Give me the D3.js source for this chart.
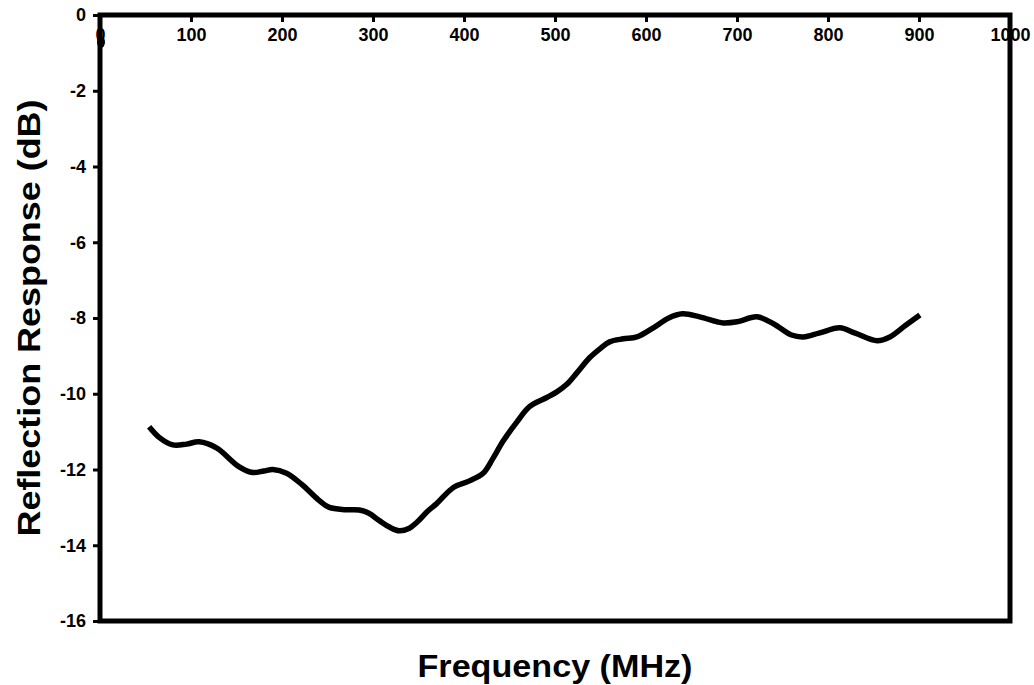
<!DOCTYPE html>
<html>
<head>
<meta charset="utf-8">
<script src="https://cdn.jsdelivr.net/npm/d3@7"></script>
<style>
body{margin:0;background:#fff;}
svg text{font-family:"Liberation Sans",Arial,sans-serif;font-weight:bold;fill:#000;}
</style>
</head>
<body>
<svg id="chart" width="1034" height="685"></svg>
<script>
// frequency (MHz) and reflection response (dB)
var freq = [54, 65, 80, 95, 109, 128, 153, 168, 180, 190, 205, 222, 240, 252, 270, 285, 295, 307, 318, 329, 340, 348, 360, 370, 388, 406, 421, 432, 443, 458, 472, 491, 502, 513, 524, 538, 550, 560, 575, 590, 608, 625, 640, 659, 678, 685, 700, 722, 740, 760, 773, 790, 813, 830, 854, 868, 885, 901];
var resp = [-10.87, -11.15, -11.35, -11.33, -11.27, -11.43, -11.93, -12.08, -12.04, -12.0, -12.1, -12.4, -12.8, -13.0, -13.06, -13.07, -13.15, -13.35, -13.52, -13.62, -13.55, -13.4, -13.1, -12.9, -12.48, -12.3, -12.1, -11.7, -11.25, -10.75, -10.34, -10.1, -9.95, -9.75, -9.45, -9.05, -8.8, -8.63, -8.55, -8.5, -8.26, -8.0, -7.89, -7.97, -8.1, -8.13, -8.1, -7.97, -8.15, -8.45, -8.5, -8.4, -8.26, -8.4, -8.6, -8.5, -8.2, -7.92];
var xTicks = [0, 100, 200, 300, 400, 500, 600, 700, 800, 900, 1000];
var yTicks = [0, -2, -4, -6, -8, -10, -12, -14, -16];

var svg = d3.select("#chart");
var mLeft = 100, mRight = 1010, mTop = 15, mBottom = 621;

var x = d3.scaleLinear().domain([0, 1000]).range([mLeft, mRight]);
var y = d3.scaleLinear().domain([-16, 0]).range([mBottom, mTop]);

function plain(d){ return String(d); }  // keep the ascii hyphen

// x axis sits on the top edge (y = 0), labels below it
var xAxis = svg.append("g")
		.attr("transform", "translate(0," + mTop + ")")
		.call(d3.axisBottom(x).tickValues(xTicks).tickSize(7).tickPadding(6).tickFormat(plain));
xAxis.select(".domain").remove();
xAxis.selectAll("line").attr("stroke", "#000").attr("stroke-width", 3);
xAxis.selectAll("text")
		.attr("font-size", 18)
		.style("font-family", "Liberation Sans, Arial, sans-serif")
		.style("font-weight", "bold");

var yAxis = svg.append("g")
		.attr("transform", "translate(" + mLeft + ",0)")
		.call(d3.axisLeft(y).tickValues(yTicks).tickSize(7).tickPadding(7).tickFormat(plain));
yAxis.select(".domain").remove();
yAxis.selectAll("line").attr("stroke", "#000").attr("stroke-width", 3);
yAxis.selectAll("text")
		.attr("font-size", 18)
		.style("font-family", "Liberation Sans, Arial, sans-serif")
		.style("font-weight", "bold");

// frame
svg.append("rect")
		.attr("x", mLeft)
		.attr("y", mTop)
		.attr("width", mRight - mLeft)
		.attr("height", mBottom - mTop)
		.attr("fill", "none")
		.attr("stroke", "#000")
		.attr("stroke-width", 5);

var line = d3.line()
		.x(function(d, i){ return x(freq[i]); })
		.y(function(d){ return y(d); })
		.curve(d3.curveCatmullRom.alpha(0.5));

svg.append("path")
		.datum(resp)
		.attr("d", line)
		.attr("fill", "none")
		.attr("stroke", "#000")
		.attr("stroke-width", 5.5)
		.attr("stroke-linejoin", "round");

// the "0" label is buried under the frame line, giving a blob
svg.append("ellipse")
		.attr("cx", mLeft + 1)
		.attr("cy", 42)
		.attr("rx", 4)
		.attr("ry", 6)
		.attr("fill", "#000");

svg.append("text")
		.attr("x", 555)
		.attr("y", 677)
		.attr("text-anchor", "middle")
		.attr("font-size", 31)
		.attr("textLength", 275)
		.attr("lengthAdjust", "spacingAndGlyphs")
		.text("Frequency (MHz)");

svg.append("text")
		.attr("transform", "translate(40,318) rotate(-90)")
		.attr("text-anchor", "middle")
		.attr("font-size", 31)
		.attr("textLength", 437)
		.attr("lengthAdjust", "spacingAndGlyphs")
		.text("Reflection Response (dB)");
</script>
</body>
</html>
